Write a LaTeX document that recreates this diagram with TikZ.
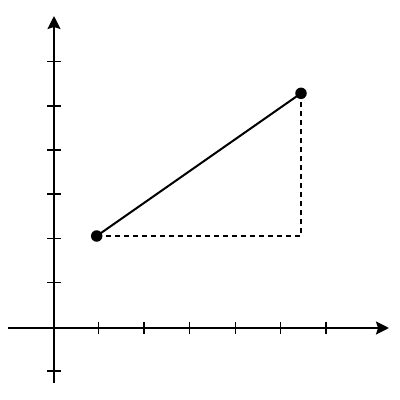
\documentclass[tikz,border=0pt]{standalone}
\usetikzlibrary{arrows.meta}
\begin{document}
\begin{tikzpicture}[x=1pt,y=-1pt,
  axis/.style={line width=2.2pt,-{Stealth[length=13pt,width=13pt,inset=2pt]}},
  tick/.style={line width=1.5pt},
  dot/.style={circle,fill=black,inner sep=0pt,minimum size=11.5pt},
  seg/.style={line width=2pt},
  guide/.style={line width=1.6pt,dash pattern=on 5pt off 4pt}]
\useasboundingbox (0,0) rectangle (400,400);
\coordinate (xs) at (8,328);
\coordinate (xe) at (389,328);
\coordinate (ys) at (54,383);
\coordinate (ye) at (54,16);
\draw[axis] (xs) -- (xe);
\draw[axis] (ys) -- (ye);
\foreach \x in {98.7,144,189.7,235.3,280.7,326}
  \draw[tick] (\x,322) -- (\x,334);
\foreach \y in {61.7,106,150,194,238.3,282.7,371}
  \draw[tick] (47,\y) -- (61,\y);
\node[dot] (a) at (96.7,236) {};
\node[dot] (b) at (301,93.3) {};
\coordinate (c) at (301,236);
\draw[guide] (a.center) -- (c) -- (b.center);
\draw[seg] (a.center) -- (b.center);
\end{tikzpicture}
\end{document}
